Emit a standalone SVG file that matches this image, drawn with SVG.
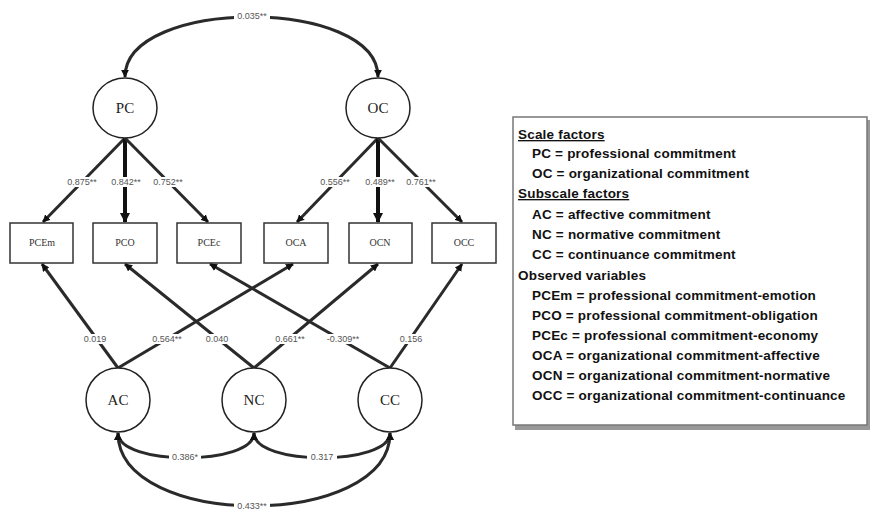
<svg xmlns="http://www.w3.org/2000/svg" width="872" height="512" viewBox="0 0 872 512">
<style>
.node ellipse{fill:#fff;stroke:#222;stroke-width:1.5}
.node rect{fill:#fff;stroke:#333;stroke-width:1.5}
.lat{font-family:"Liberation Serif",serif;font-size:15px;fill:#222;text-anchor:middle}
.obs{font-family:"Liberation Serif",serif;font-size:10px;fill:#333;text-anchor:middle}
.cn path,.cn line{fill:none;stroke:#2a2a2a;stroke-width:3}
.lb{font-family:"Liberation Sans",sans-serif;font-size:9px;fill:#555;text-anchor:middle}
.lbg{fill:#fff}
.lg{font-family:"Liberation Sans",sans-serif;font-weight:bold;font-size:13.5px;fill:#111;letter-spacing:0.2px}
.ul{text-decoration:underline}
</style>
<defs>
<marker id="ah" viewBox="0 0 10 10" refX="9" refY="5" markerWidth="2.6" markerHeight="2.6" orient="auto-start-reverse" markerUnits="strokeWidth">
<path d="M0,0 L10,5 L0,10 z" fill="#111"/>
</marker>
</defs>

<g id="connectors" class="cn">
<path d="M125,77 C125,-3 378,-3 378,77" marker-start="url(#ah)" marker-end="url(#ah)"/>
<line x1="125" y1="138" x2="43" y2="222" marker-end="url(#ah)"/>
<line x1="125" y1="138" x2="125" y2="222" marker-end="url(#ah)" style="stroke-width:4;stroke:#111"/>
<line x1="125" y1="138" x2="208" y2="222" marker-end="url(#ah)"/>
<line x1="378" y1="138" x2="297" y2="222" marker-end="url(#ah)"/>
<line x1="378" y1="138" x2="378" y2="222" marker-end="url(#ah)" style="stroke-width:4;stroke:#111"/>
<line x1="378" y1="138" x2="462" y2="222" marker-end="url(#ah)"/>
<line x1="118" y1="368" x2="42" y2="264" marker-end="url(#ah)"/>
<line x1="118" y1="368" x2="293" y2="264" marker-end="url(#ah)"/>
<line x1="254" y1="368" x2="125" y2="264" marker-end="url(#ah)"/>
<line x1="254" y1="368" x2="378" y2="264" marker-end="url(#ah)"/>
<line x1="390" y1="368" x2="210" y2="264" marker-end="url(#ah)"/>
<line x1="390" y1="368" x2="462" y2="264" marker-end="url(#ah)"/>
<path d="M118,433 C118,466 254,466 254,433" marker-start="url(#ah)" marker-end="url(#ah)"/>
<path d="M254,433 C254,466 390,466 390,433" marker-start="url(#ah)" marker-end="url(#ah)"/>
<path d="M118,433 C118,530 390,530 390,433" marker-start="url(#ah)" marker-end="url(#ah)"/>
<g id="labels">
<rect class="lbg" x="234" y="11" width="36" height="10"/><text class="lb" x="252" y="19">0.035**</text>
<rect class="lbg" x="64" y="177" width="36" height="10"/><text class="lb" x="82" y="185">0.875**</text>
<rect class="lbg" x="108" y="177" width="36" height="10"/><text class="lb" x="126" y="185">0.842**</text>
<rect class="lbg" x="150" y="177" width="36" height="10"/><text class="lb" x="168" y="185">0.752**</text>
<rect class="lbg" x="317" y="177" width="36" height="10"/><text class="lb" x="335" y="185">0.556**</text>
<rect class="lbg" x="362" y="177" width="36" height="10"/><text class="lb" x="380" y="185">0.489**</text>
<rect class="lbg" x="403" y="177" width="36" height="10"/><text class="lb" x="421" y="185">0.761**</text>
<rect class="lbg" x="82" y="334" width="26" height="10"/><text class="lb" x="95" y="342">0.019</text>
<rect class="lbg" x="149" y="334" width="36" height="10"/><text class="lb" x="167" y="342">0.564**</text>
<rect class="lbg" x="204" y="334" width="26" height="10"/><text class="lb" x="217" y="342">0.040</text>
<rect class="lbg" x="272" y="334" width="36" height="10"/><text class="lb" x="290" y="342">0.661**</text>
<rect class="lbg" x="324" y="334" width="38" height="10"/><text class="lb" x="343" y="342">-0.309**</text>
<rect class="lbg" x="398" y="334" width="26" height="10"/><text class="lb" x="411" y="342">0.156</text>
<rect class="lbg" x="169" y="452" width="32" height="10"/><text class="lb" x="185" y="460">0.386*</text>
<rect class="lbg" x="307" y="452" width="30" height="10"/><text class="lb" x="322" y="460">0.317</text>
<rect class="lbg" x="234" y="501" width="36" height="10"/><text class="lb" x="252" y="509">0.433**</text>
</g>
</g>

<g id="PC" class="node"><ellipse cx="125" cy="108" rx="32" ry="30"/><text class="lat" x="125" y="113">PC</text></g>
<g id="OC" class="node"><ellipse cx="378" cy="108" rx="32" ry="30"/><text class="lat" x="378" y="113">OC</text></g>
<g id="PCEm" class="node"><rect x="10" y="223" width="63" height="40"/><text class="obs" x="42" y="246">PCEm</text></g>
<g id="PCO" class="node"><rect x="93" y="223" width="64" height="40"/><text class="obs" x="125" y="246">PCO</text></g>
<g id="PCEc" class="node"><rect x="177" y="223" width="64" height="40"/><text class="obs" x="209" y="246">PCEc</text></g>
<g id="OCA" class="node"><rect x="264" y="223" width="64" height="40"/><text class="obs" x="296" y="246">OCA</text></g>
<g id="OCN" class="node"><rect x="349" y="223" width="63" height="40"/><text class="obs" x="380" y="246">OCN</text></g>
<g id="OCC" class="node"><rect x="432" y="223" width="64" height="40"/><text class="obs" x="464" y="246">OCC</text></g>
<g id="AC" class="node"><ellipse cx="118" cy="400" rx="32" ry="32"/><text class="lat" x="118" y="405">AC</text></g>
<g id="NC" class="node"><ellipse cx="254" cy="400" rx="32" ry="32"/><text class="lat" x="254" y="405">NC</text></g>
<g id="CC" class="node"><ellipse cx="390" cy="400" rx="32" ry="32"/><text class="lat" x="390" y="405">CC</text></g>

<g id="legend">
<rect x="515" y="120" width="355" height="310" fill="#999"/>
<rect x="513" y="117" width="354" height="308" fill="#fff" stroke="#777" stroke-width="1.5"/>
<text class="lg ul" x="518" y="139">Scale factors</text>
<text class="lg" x="532" y="158">PC = professional commitment</text>
<text class="lg" x="532" y="178">OC = organizational commitment</text>
<text class="lg ul" x="518" y="198">Subscale factors</text>
<text class="lg" x="532" y="219">AC = affective commitment</text>
<text class="lg" x="532" y="239">NC = normative commitment</text>
<text class="lg" x="532" y="259">CC = continuance commitment</text>
<text class="lg" x="518" y="280">Observed variables</text>
<text class="lg" x="532" y="300">PCEm = professional commitment-emotion</text>
<text class="lg" x="532" y="320">PCO = professional commitment-obligation</text>
<text class="lg" x="532" y="340">PCEc =  professional commitment-economy</text>
<text class="lg" x="532" y="360">OCA = organizational commitment-affective</text>
<text class="lg" x="532" y="380">OCN = organizational commitment-normative</text>
<text class="lg" x="532" y="400">OCC = organizational commitment-continuance</text>
</g>
</svg>
